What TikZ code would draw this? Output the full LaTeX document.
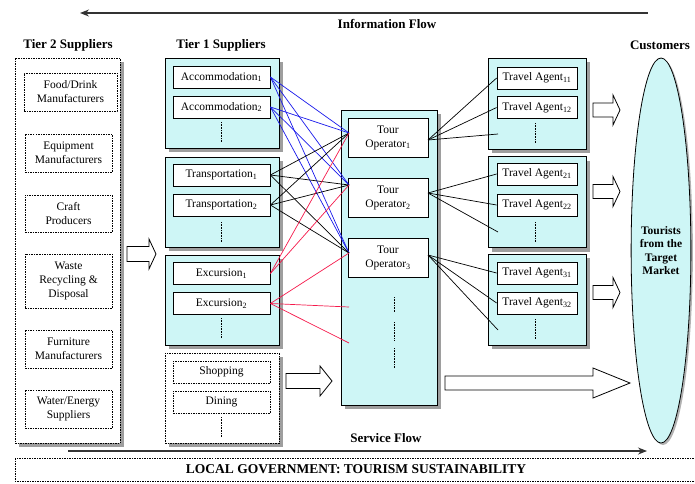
\documentclass[tikz,border=0pt]{standalone}
\usepackage{fontspec}
\setmainfont{Liberation Serif}
\usetikzlibrary{shapes.geometric,shadows,arrows.meta}
\definecolor{boxcyan}{RGB}{206,246,246}
\definecolor{linkblue}{RGB}{25,25,235}
\definecolor{linkred}{RGB}{245,25,75}

\begin{document}
\begin{tikzpicture}[x=1pt,y=-1pt,
    lbl/.style={font=\fontsize{11.5}{14}\selectfont},
    hdr/.style={font=\fontsize{13}{15}\selectfont\bfseries},
    shade/.style={drop shadow={shadow xshift=4pt,shadow yshift=-4pt,fill=black!38,opacity=1}},
    dots/.style={dash pattern=on 1.5pt off 1pt},
    group/.style={draw,line width=0.9pt,fill=boxcyan,shade,minimum width=114pt,minimum height=90pt,inner sep=0pt},
    dotgroup/.style={group,dots,fill=white},
    item/.style={lbl,draw,line width=0.8pt,fill=white,minimum width=97pt,minimum height=22pt,inner sep=0pt,align=center},
    dotitem/.style={item,dots},
    t2item/.style={lbl,draw,dots,line width=0.8pt,fill=white,minimum width=87pt,inner sep=1pt,align=center},
    vdots/.style={line width=1pt,dash pattern=on 0.8pt off 0.8pt},
    link/.style={line width=0.7pt},
    flow/.style={line width=1.3pt,black!80},
    block/.style={draw,line width=0.8pt,fill=white}]
  \useasboundingbox (0,0) rectangle (695,483);

  \draw[flow,{Stealth[length=9pt,width=7pt]}-] (80,13) -- (648,13);
  \node[hdr] (info) at (387,24) {Information Flow};

  \node[hdr] (t2head) at (68,45) {Tier 2 Suppliers};
  \node[hdr] (t1head) at (221,45) {Tier 1 Suppliers};
  \node[hdr] (custhead) at (660,45) {Customers};

  \node[dotgroup,minimum width=105pt,minimum height=385pt] (tier2) at (67.5,250.5) {};
  \node[t2item,minimum width=93pt,minimum height=38pt] (food) at (70.5,92) {Food/Drink\\Manufacturers};
  \node[t2item,minimum height=38pt] (equip) at (68.5,153) {Equipment\\Manufacturers};
  \node[t2item,minimum height=37pt] (craft) at (68.5,213.5) {Craft\\Producers};
  \node[t2item,minimum height=54pt] (waste) at (68.5,281) {Waste\\Recycling \&\\Disposal};
  \node[t2item,minimum height=38pt] (furn) at (68.5,349) {Furniture\\Manufacturers};
  \node[t2item,minimum height=38pt] (water) at (68.5,409) {Water/Energy\\Suppliers};

  \node[group] (accgrp) at (222,103) {};
  \node[group] (trngrp) at (222,202) {};
  \node[group] (excgrp) at (222,300) {};
  \node[dotgroup] (othgrp) at (222,398) {};
  \node[item] (acc1) at (221.5,77) {Accommodation\textsubscript{1}};
  \node[item] (acc2) at (221.5,107) {Accommodation\textsubscript{2}};
  \node[item] (trn1) at (221.5,175) {Transportation\textsubscript{1}};
  \node[item] (trn2) at (221.5,205) {Transportation\textsubscript{2}};
  \node[item] (exc1) at (221.5,273.5) {Excursion\textsubscript{1}};
  \node[item] (exc2) at (221.5,303.5) {Excursion\textsubscript{2}};
  \node[dotitem] (shop) at (221.5,372) {Shopping};
  \node[dotitem] (dine) at (221.5,402) {Dining};
  \draw[vdots] (221,122) -- (221,142);
  \draw[vdots] (221,222) -- (221,242);
  \draw[vdots] (221,318) -- (221,338);
  \draw[vdots] (221,417) -- (221,437);

  \node[group,minimum width=96pt,minimum height=295pt] (opgrp) at (389,257.5) {};
  \node[item,minimum width=80pt,minimum height=39pt] (op1) at (388,137.5) {Tour\\Operator\textsubscript{1}};
  \node[item,minimum width=80pt,minimum height=39pt] (op2) at (388,198) {Tour\\Operator\textsubscript{2}};
  \node[item,minimum width=80pt,minimum height=39pt] (op3) at (388,258) {Tour\\Operator\textsubscript{3}};
  \draw[vdots] (394,297) -- (394,312);
  \draw[vdots] (394,322) -- (394,340);
  \draw[vdots] (394,348) -- (394,368);

  \node[group,minimum width=98pt,minimum height=91pt] (aggrp1) at (537,103.5) {};
  \node[group,minimum width=98pt,minimum height=91pt] (aggrp2) at (537,202) {};
  \node[group,minimum width=98pt,minimum height=91pt] (aggrp3) at (537,299.5) {};
  \node[item,minimum width=80pt] (ta11) at (537,78) {Travel Agent\textsubscript{11}};
  \node[item,minimum width=80pt] (ta12) at (537,107.5) {Travel Agent\textsubscript{12}};
  \node[item,minimum width=80pt] (ta21) at (537,174) {Travel Agent\textsubscript{21}};
  \node[item,minimum width=80pt] (ta22) at (537,205) {Travel Agent\textsubscript{22}};
  \node[item,minimum width=80pt] (ta31) at (537,273) {Travel Agent\textsubscript{31}};
  \node[item,minimum width=80pt] (ta32) at (537,303) {Travel Agent\textsubscript{32}};
  \draw[vdots] (535,123) -- (535,143);
  \draw[vdots] (535,222) -- (535,242);
  \draw[vdots] (535,319) -- (535,339);

  \node[ellipse,draw,line width=0.8pt,fill=boxcyan,drop shadow={shadow xshift=2pt,shadow yshift=-2pt,fill=black!30,opacity=1},
    minimum width=58pt,minimum height=385pt,inner sep=0pt,align=center,
    font=\fontsize{11.5}{13.5}\selectfont\bfseries] (tourists) at (661,250.5) {Tourists\\from the\\Target\\Market};

  \coordinate (in1) at (349,133);
  \coordinate (in2) at (349,185);
  \coordinate (in3) at (349,253);
  \coordinate (in4) at (349,307);
  \coordinate (in5) at (349,343);
  \coordinate (out1) at (428,140);
  \coordinate (out2) at (428,193);
  \coordinate (out3) at (428,255);
  \coordinate (ta13) at (498,134);
  \coordinate (ta23) at (498,232);
  \coordinate (ta33) at (498,330);

  \foreach \s in {acc1,acc2}
    \foreach \t in {in1,in2,in3}
      \draw[link,linkblue] (\s.east) -- (\t);
  \foreach \s in {trn1,trn2}
    \foreach \t in {in1,in2,in3}
      \draw[link] (\s.east) -- (\t);
  \foreach \t in {in1,in2}
    \draw[link,linkred] (exc1.east) -- (\t);
  \foreach \t in {in3,in4,in5}
    \draw[link,linkred] (exc2.east) -- (\t);
  \foreach \t in {ta11.west,ta12.west,ta13}
    \draw[link] (out1) -- (\t);
  \foreach \t in {ta21.west,ta22.west,ta23}
    \draw[link] (out2) -- (\t);
  \foreach \t in {ta31.west,ta32.west,ta33}
    \draw[link] (out3) -- (\t);

  \draw[block] (127,246.5) -- (149,246.5) -- (149,239) -- (156,254) -- (149,269) -- (149,261.5) -- (127,261.5) -- cycle;
  \draw[block] (593,103) -- (613,103) -- (613,95) -- (620,110) -- (613,125) -- (613,117) -- (593,117) -- cycle;
  \draw[block] (593,184.5) -- (613,184.5) -- (613,176.5) -- (620,191.5) -- (613,206.5) -- (613,198.5) -- (593,198.5) -- cycle;
  \draw[block] (593,285.5) -- (613,285.5) -- (613,277.5) -- (620,292.5) -- (613,307.5) -- (613,299.5) -- (593,299.5) -- cycle;
  \draw[block] (286,373.5) -- (320,373.5) -- (320,366) -- (332,381) -- (320,396) -- (320,388.5) -- (286,388.5) -- cycle;
  \draw[block] (445,376) -- (593,376) -- (593,368) -- (630,383) -- (593,398) -- (593,390) -- (445,390) -- cycle;

  \node[hdr] (service) at (386,438) {Service Flow};
  \draw[flow,-{Stealth[length=9pt,width=7pt]}] (68,451) -- (647,451);

  \draw[dots,line width=0.9pt] (15,458) rectangle (700,481);
  \node[font=\fontsize{13.5}{15}\selectfont\bfseries] (gov) at (356,469.5) {LOCAL GOVERNMENT: TOURISM SUSTAINABILITY};
\end{tikzpicture}
\end{document}
